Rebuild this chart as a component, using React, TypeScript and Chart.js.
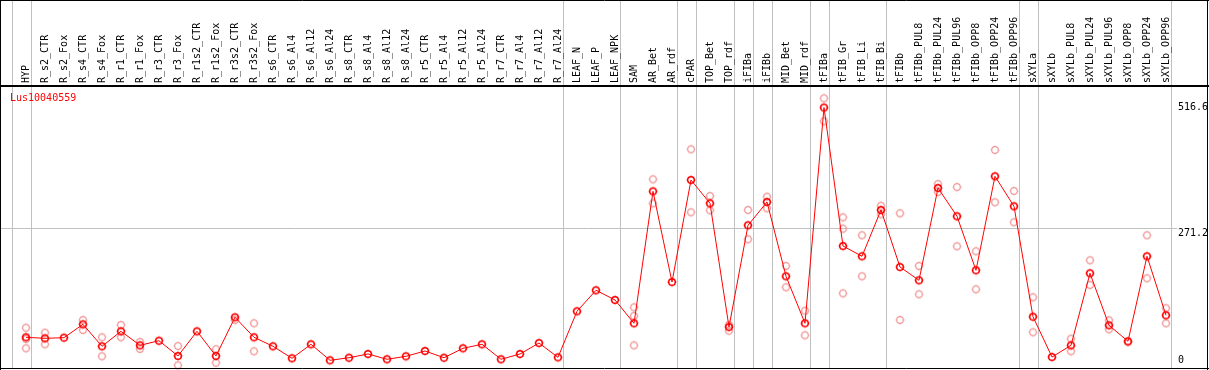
import { useEffect, useRef } from "react";
import { Chart, registerables } from "chart.js";
Chart.register(...registerables);

const title = "Lus10040559";

const categories = [
  "HYP", "R_s2_CTR", "R_s2_Fox", "R_s4_CTR", "R_s4_Fox", "R_r1_CTR", "R_r1_Fox", "R_r3_CTR", "R_r3_Fox",
  "R_r1s2_CTR", "R_r1s2_Fox", "R_r3s2_CTR", "R_r3s2_Fox", "R_s6_CTR", "R_s6_Al4", "R_s6_Al12", "R_s6_Al24",
  "R_s8_CTR", "R_s8_Al4", "R_s8_Al12", "R_s8_Al24", "R_r5_CTR", "R_r5_Al4", "R_r5_Al12", "R_r5_Al24",
  "R_r7_CTR", "R_r7_Al4", "R_r7_Al12", "R_r7_Al24", "LEAF_N", "LEAF_P", "LEAF_NPK", "SAM", "AR_Bet", "AR_rdf",
  "cPAR", "TOP_Bet", "TOP_rdf", "iFIBa", "iFIBb", "MID_Bet", "MID_rdf", "tFIBa", "tFIB_Gr", "tFIB_Li", "tFIB_Bi",
  "tFIBb", "tFIBb_PUL8", "tFIBb_PUL24", "tFIBb_PUL96", "tFIBb_OPP8", "tFIBb_OPP24", "tFIBb_OPP96",
  "sXYLa", "sXYLb", "sXYLb_PUL8", "sXYLb_PUL24", "sXYLb_PUL96", "sXYLb_OPP8", "sXYLb_OPP24", "sXYLb_OPP96",
];

const means = [
  47.4, 45.3, 46.6, 73.9, 29.0, 59.6, 31.0, 40.4, 9.2,
  59.6, 9.2, 88.2, 47.4, 29.0, 4.5, 33.1, 0.4,
  5.7, 13.3, 2.5, 8.6, 19.4, 5.7, 24.9, 33.1,
  2.5, 13.3, 35.7, 6.5, 100.5, 143.4, 123.6, 76.0, 345.5, 160.3,
  368.6, 321.0, 68.4, 276.1, 323.7, 172.0, 76.0, 516.6, 233.8, 212.8, 307.4,
  190.9, 163.8, 352.3, 294.5, 184.2, 376.2, 314.9,
  89.4, 7.1, 31.0, 178.1, 71.9, 39.2, 212.8, 92.3,
];

const rep1 = [
  67.0, 56.8, null, 82.7, 47.4, 72.5, 37.8, null, 29.6,
  null, 22.9, 82.7, 76.0, null, null, null, null,
  null, null, null, null, null, null, null, null,
  null, null, null, null, null, null, null, 108.6, 370.0, null,
  431.3, 335.9, 72.5, 307.4, 334.5, 193.0, 101.7, 535.5, 292.4, 255.7, 316.1,
  300.6, 193.0, 360.4, 354.3, 223.0, 429.9, 346.2,
  129.1, null, 44.5, 204.6, 82.1, 37.8, 255.7, 106.6,
];

const rep2 = [
  43.9, 33.1, null, 62.3, 8.6, 47.4, 23.5, null, -9.8,
  null, -4.5, null, 18.8, null, null, null, null,
  null, null, null, null, null, null, null, null,
  null, null, null, null, null, null, null, 90.9, 321.0, null,
  302.7, 306.7, 60.9, 247.5, 310.8, 149.5, 51.5, 488.5, 269.2, 172.0, 298.6,
  82.7, 135.2, 344.1, 233.2, 145.4, 323.1, 282.2,
  57.6, null, 18.8, 154.2, 63.7, null, 167.9, 76.0,
];

const rep3 = [
  24.9, null, null, null, null, null, null, null, null,
  null, null, null, null, null, null, null, null,
  null, null, null, null, null, null, null, null,
  null, null, null, null, null, null, null, 31.0, null, null,
  null, null, null, null, null, null, null, null, 137.2, null, null,
  null, null, null, null, null, null, null,
  null, null, null, null, null, null, null, null,
];

const yTickLabels = [516.6, 271.2, 0];
const gridValues = [271.2];
const groupEnds = [-1, 0, 28, 31, 34, 35, 37, 38, 39, 41, 42, 45, 52, 53, 60];

const RED = "#ff0000";
const PINK = "#f29a9a";
const GRID = "#c0c0c0";
const FONT = "10px 'DejaVu Sans Mono'";

function makeMarker(color: string, lw: number) {
  const c = document.createElement("canvas");
  c.width = 12;
  c.height = 12;
  const g = c.getContext("2d")!;
  g.strokeStyle = color;
  g.lineWidth = lw;
  g.beginPath();
  g.arc(6, 6, 3.3, 0, Math.PI * 2);
  g.stroke();
  g.lineWidth = 1;
  g.beginPath();
  g.moveTo(6, 1.5); g.lineTo(6, 2.6);
  g.moveTo(6, 9.4); g.lineTo(6, 10.5);
  g.moveTo(1.5, 6); g.lineTo(2.6, 6);
  g.moveTo(9.4, 6); g.lineTo(10.5, 6);
  g.stroke();
  return c;
}

const decorPlugin = {
  id: "decor",
  beforeDatasetsDraw(chart: any) {
    const ctx = chart.ctx;
    const xs = chart.scales.x;
    const ys = chart.scales.y;
    ctx.save();
    ctx.strokeStyle = GRID;
    ctx.lineWidth = 1;
    ctx.beginPath();
    for (const g of groupEnds) {
      const px = Math.round(xs.getPixelForValue(g + 0.25)) + 0.5;
      ctx.moveTo(px, 0);
      ctx.lineTo(px, 368);
    }
    for (const v of gridValues) {
      const py = Math.round(ys.getPixelForValue(v)) + 0.5;
      ctx.moveTo(0, py);
      ctx.lineTo(1177, py);
    }
    ctx.stroke();
    ctx.restore();
  },
  afterDraw(chart: any) {
    const ctx = chart.ctx;
    const xs = chart.scales.x;
    const ys = chart.scales.y;
    ctx.save();
    ctx.fillStyle = "#000";
    ctx.font = FONT;
    ctx.textAlign = "left";
    ctx.textBaseline = "middle";
    categories.forEach((lab, i) => {
      const px = xs.getPixelForValue(i);
      ctx.save();
      ctx.translate(Math.round(px), 83);
      ctx.rotate(-Math.PI / 2);
      ctx.fillText(lab, 0, 0);
      ctx.restore();
    });
    ctx.fillStyle = RED;
    ctx.textBaseline = "middle";
    ctx.fillText(title, 10, 98);
    ctx.fillStyle = "#000";
    yTickLabels.forEach((v, i) => {
      const py = ys.getPixelForValue(v);
      const inner = i > 0 && i < yTickLabels.length - 1;
      ctx.textBaseline = inner ? "top" : "middle";
      ctx.fillText(String(v), 1178, inner ? py + 1 : py);
    });
    ctx.strokeStyle = "#000";
    ctx.lineWidth = 1;
    ctx.beginPath();
    ctx.moveTo(0, 0.5); ctx.lineTo(1209, 0.5);
    ctx.moveTo(0.5, 0); ctx.lineTo(0.5, 370);
    ctx.moveTo(1207.5, 0); ctx.lineTo(1207.5, 370);
    ctx.moveTo(0, 368.5); ctx.lineTo(1209, 368.5);
    ctx.stroke();
    ctx.lineWidth = 2;
    ctx.beginPath();
    ctx.moveTo(0, 86); ctx.lineTo(1209, 86);
    ctx.stroke();
    ctx.restore();
  },
};

export default function App() {
  const ref = useRef<HTMLCanvasElement | null>(null);
  useEffect(() => {
    document.body.style.margin = "0";
    const canvas = ref.current!;
    const mainMarker = makeMarker(RED, 1.5);
    const repMarker = makeMarker(PINK, 1.2);
    const repPoints: { x: number; y: number }[] = [];
    [rep1, rep2, rep3].forEach((arr) =>
      arr.forEach((v, i) => {
        if (v !== null) repPoints.push({ x: i, y: v as number });
      })
    );
    const chart = new Chart(canvas, {
      type: "line",
      data: {
        datasets: [
          {
            label: "mean",
            data: means.map((v, i) => ({ x: i, y: v })),
            borderColor: RED,
            borderWidth: 1,
            pointStyle: mainMarker as any,
            pointRadius: 4,
            tension: 0,
            clip: false as any,
            order: 0,
          },
          {
            label: "replicates",
            data: repPoints,
            showLine: false,
            borderColor: PINK,
            pointStyle: repMarker as any,
            pointRadius: 4,
            clip: false as any,
            order: 1,
          },
        ],
      },
      options: {
        animation: false,
        responsive: false,
        devicePixelRatio: 1,
        layout: { autoPadding: false, padding: { left: 0, top: 86, right: 39, bottom: 1 } },
        plugins: { legend: { display: false }, tooltip: { enabled: false } },
        scales: {
          x: { type: "linear", display: false, min: -26 / 19, max: -26 / 19 + 1170 / 19 },
          y: { type: "linear", display: false, min: 560.57 - 283 / 0.48968, max: 560.57 },
        },
      },
      plugins: [decorPlugin],
    });
    return () => chart.destroy();
  }, []);
  return (
    <div style={{ width: 1209, height: 370 }}>
      <canvas ref={ref} width={1209} height={370} style={{ display: "block" }} />
    </div>
  );
}
